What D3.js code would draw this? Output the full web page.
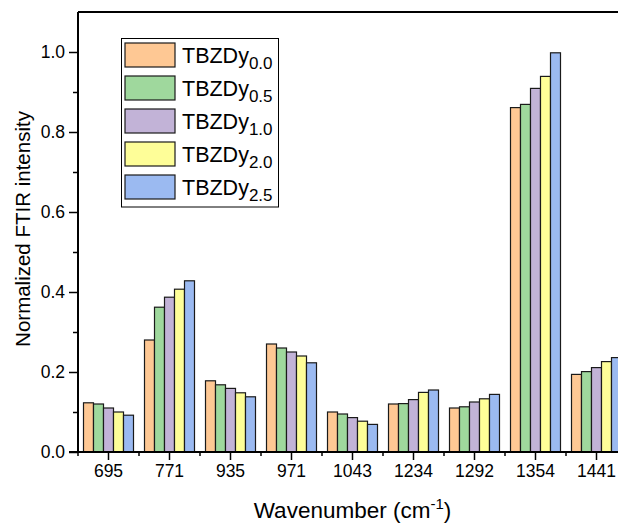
<!DOCTYPE html>
<html>
<head>
<meta charset="utf-8">
<script src="https://cdn.jsdelivr.net/npm/d3@7"></script>
<style>
  html, body { margin: 0; padding: 0; background: #fff; overflow: hidden; }
  svg { display: block; font-family: "Liberation Sans", Arial, sans-serif; }
</style>
</head>
<body>
<svg id="chart" width="618" height="523"></svg>
<script>
// Wavenumber bands (cm-1) and the normalized FTIR intensity of each sample
const categories = ["695", "771", "935", "971", "1043", "1234", "1292", "1354", "1441"];
const seriesNames = ["0.0", "0.5", "1.0", "2.0", "2.5"];
const dy00 = [0.123, 0.280, 0.178, 0.270, 0.100, 0.120, 0.110, 0.861, 0.194];
const dy05 = [0.120, 0.362, 0.168, 0.260, 0.095, 0.121, 0.113, 0.869, 0.201];
const dy10 = [0.110, 0.387, 0.159, 0.250, 0.086, 0.131, 0.125, 0.909, 0.211];
const dy20 = [0.100, 0.407, 0.148, 0.240, 0.077, 0.149, 0.133, 0.939, 0.226];
const dy25 = [0.092, 0.428, 0.138, 0.223, 0.069, 0.155, 0.144, 0.998, 0.236];
const yTicks = [0.0, 0.2, 0.4, 0.6, 0.8, 1.0];
const yMinorTicks = [0.1, 0.3, 0.5, 0.7, 0.9];
const colors = ["#FEC894", "#9FD89D", "#C2B3D7", "#FEFE98", "#9BBAF1"];

const seriesValues = [dy00, dy05, dy10, dy20, dy25];
const FONT = "'Liberation Sans', Arial, sans-serif";

const svg = d3.select("#chart");
const mLeft = 78, mTop = 12, mBottom = 452, mRight = 627;

const x0 = d3.scaleBand().domain(categories).range([mLeft, mRight]).padding(0);
const x1 = d3.scaleBand().domain(seriesNames).range([0, x0.bandwidth()])
  .paddingInner(0).paddingOuter(0.55);
const y = d3.scaleLinear().domain([0, 1.1]).range([mBottom, mTop]);

// bars
const groups = svg.append("g").selectAll("g")
  .data(categories)
  .join("g")
  .attr("transform", d => `translate(${x0(d)},0)`);

groups.selectAll("rect")
  .data((c, ci) => seriesNames.map((s, si) => ({ s, si, v: seriesValues[si][ci] })))
  .join("rect")
  .attr("x", d => x1(d.s))
  .attr("y", d => y(d.v))
  .attr("width", x1.bandwidth())
  .attr("height", d => y(0) - y(d.v))
  .attr("fill", d => colors[d.si])
  .attr("stroke", "#1a1a1a")
  .attr("stroke-width", 1.2);

// y axis (major + minor ticks)
const yAxis = svg.append("g").attr("transform", `translate(${mLeft},0)`);
yAxis.call(d3.axisLeft(y).tickValues(yTicks).tickFormat(d3.format(".1f"))
  .tickSize(9).tickPadding(4));
yAxis.append("g").call(d3.axisLeft(y).tickValues(yMinorTicks).tickFormat("").tickSize(5))
  .select(".domain").remove();

// x axis: major ticks at band centres, minor at band edges
const xAxis = svg.append("g").attr("transform", `translate(0,${mBottom})`);
xAxis.call(d3.axisBottom(x0).tickSize(8).tickPadding(5));
const edges = categories.map(c => x0(c)).concat([mRight]);
xAxis.append("g").selectAll("line")
  .data(edges)
  .join("line")
  .attr("x1", d => d).attr("x2", d => d)
  .attr("y1", 0).attr("y2", 4)
  .attr("stroke", "#000").attr("stroke-width", 1.5);

svg.selectAll(".domain").attr("stroke", "#000").attr("stroke-width", 2);
svg.selectAll(".tick line").attr("stroke", "#000").attr("stroke-width", 1.5);
svg.selectAll(".tick text").attr("font-size", 17.5).attr("fill", "#000")
  .attr("font-family", FONT);
yAxis.selectAll(".domain").attr("d", `M0,${mBottom}V${mTop}`);
xAxis.selectAll(".domain").attr("d", `M${mLeft - 9},0H${mRight}`);

// frame top edge
svg.append("line")
  .attr("x1", mLeft).attr("x2", mRight)
  .attr("y1", mTop).attr("y2", mTop)
  .attr("stroke", "#000").attr("stroke-width", 2);

// axis titles
const xt = svg.append("text")
  .attr("x", (mLeft + mRight) / 2).attr("y", 518)
  .attr("text-anchor", "middle").attr("font-size", 22.5).attr("fill", "#000")
  .attr("font-family", FONT);
xt.append("tspan").text("Wavenumber (cm");
xt.append("tspan").attr("font-size", 15).attr("dy", -9).text("-1");
xt.append("tspan").attr("dy", 9).text(")");

svg.append("text")
  .attr("transform", `translate(30,229) rotate(-90)`)
  .attr("text-anchor", "middle").attr("font-size", 20.5).attr("fill", "#000")
  .attr("font-family", FONT)
  .text("Normalized FTIR intensity");

// legend
const legend = svg.append("g");
legend.append("rect")
  .attr("x", 121.5).attr("y", 38.5).attr("width", 157).attr("height", 168.5)
  .attr("fill", "#fff").attr("stroke", "#000").attr("stroke-width", 1);
const items = legend.selectAll("g.item")
  .data(seriesNames)
  .join("g").attr("class", "item")
  .attr("transform", (d, i) => `translate(0,${i * 33})`);
items.append("rect")
  .attr("x", 125).attr("y", 43).attr("width", 50).attr("height", 24)
  .attr("fill", (d, i) => colors[i])
  .attr("stroke", "#1a1a1a").attr("stroke-width", 1.2);
const lt = items.append("text")
  .attr("x", 182).attr("y", 63)
  .attr("font-size", 21.5).attr("fill", "#000")
  .attr("font-family", FONT);
lt.append("tspan").text("TBZDy");
lt.append("tspan").attr("font-size", 17).attr("dy", 6).text(d => d);
</script>
</body>
</html>
